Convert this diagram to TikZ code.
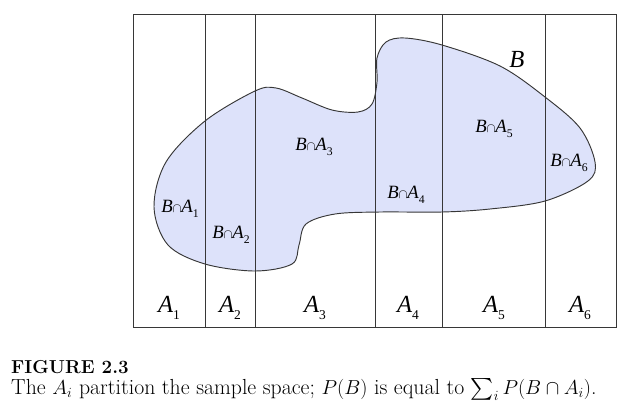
\documentclass[tikz,border=0pt]{standalone}
\usepackage{fontspec}
\usepackage{amsmath, amssymb}
\newfontfamily\timesfont{Liberation Serif}
\definecolor{blobfill}{RGB}{221,226,250}
\definecolor{edgegray}{RGB}{55,55,55}
\newcommand{\bcap}[1]{\textit{B}{\fontsize{11}{11}\selectfont$\cap$}\textit{A}\raisebox{-.55ex}{\fontsize{10}{10}\selectfont #1}}
\newcommand{\aset}[1]{\textit{A}\raisebox{-.6ex}{\fontsize{11.5}{12}\selectfont #1}}

\begin{document}
\begin{tikzpicture}
        [x=0.03cm, y=-0.03cm, every node/.style={inner sep=0}, inlabel/.style={font=\timesfont\fontsize{16}{18}\selectfont}, setlabel/.style={font=\timesfont\fontsize{21}{24}\selectfont}, every draw/.style={line width=0.8pt, edgegray}]

        \useasboundingbox (0,0) rectangle (624,410);

        \filldraw[fill=blobfill, draw=edgegray, line width=0.8pt] plot[smooth cycle, tension=0.55] coordinates {
          (154,207) (166,162) (205,121) (255,91) (276,88) (302,98) (332,110) (358,112) (372,104)
          (377,82) (377,58) (386,42) (405,38) (442,45) (500,66) (545,97) (580,128) (595,162)
          (588,181) (545,201) (490,209) (442,212) (380,212) (335,214) (306,224) (299,245)
          (292,264) (255,271) (205,264) (168,245)};

        \coordinate (tl) at (133,14);
        \coordinate (br) at (616,327);
        \draw[line width=0.8pt, edgegray] (tl) rectangle (br);
        \foreach \x in {205,255,375,442,545}
          \draw[line width=0.8pt, edgegray] (\x,14) -- (\x,327);

        \node[inlabel] (ba1) at (180,209) {\bcap{1}};
        \node[inlabel] (ba2) at (231,235) {\bcap{2}};
        \node[inlabel] (ba3) at (314,147) {\bcap{3}};
        \node[inlabel] (ba4) at (406,195) {\bcap{4}};
        \node[inlabel] (ba5) at (494,129) {\bcap{5}};
        \node[inlabel] (ba6) at (569,163) {\bcap{6}};
        \node[setlabel] (b) at (517,59) {\textit{B}};

        \node[setlabel] (a1) at (169,308) {\aset{1}};
        \node[setlabel] (a2) at (230,308) {\aset{2}};
        \node[setlabel] (a3) at (315,308) {\aset{3}};
        \node[setlabel] (a4) at (408,308) {\aset{4}};
        \node[setlabel] (a5) at (494,308) {\aset{5}};
        \node[setlabel] (a6) at (580,308) {\aset{6}};

        \node[anchor=base west, font=\fontsize{16}{19}\selectfont\bfseries] (fig) at (11,373) {FIGURE 2.3};
        \node[anchor=base west, font=\fontsize{18.6}{21}\selectfont] (cap) at (11,394) {The $A_i$ partition the sample space; $P(B)$ is equal to $\sum_i P(B\cap A_i)$.};
      \end{tikzpicture}
\end{document}
